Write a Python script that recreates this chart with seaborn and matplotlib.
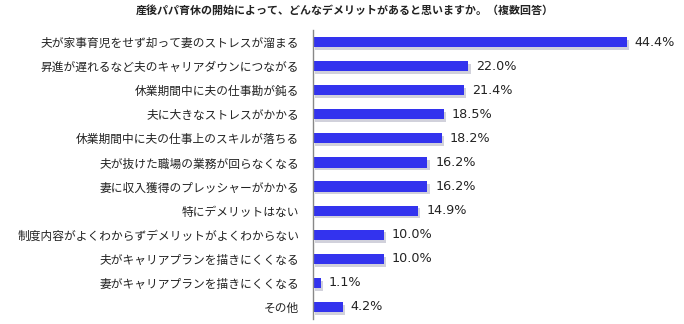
import matplotlib
matplotlib.use("Agg")
import matplotlib.pyplot as plt
import matplotlib.patheffects as pe
import seaborn as sns
import pandas as pd

categories = [
    "夫が家事育児をせず却って妻のストレスが溜まる",
    "昇進が遅れるなど夫のキャリアダウンにつながる",
    "休業期間中に夫の仕事勘が鈍る",
    "夫に大きなストレスがかかる",
    "休業期間中に夫の仕事上のスキルが落ちる",
    "夫が抜けた職場の業務が回らなくなる",
    "妻に収入獲得のプレッシャーがかかる",
    "特にデメリットはない",
    "制度内容がよくわからずデメリットがよくわからない",
    "夫がキャリアプランを描きにくくなる",
    "妻がキャリアプランを描きにくくなる",
    "その他",
]
values = [44.4, 22.0, 21.4, 18.5, 18.2, 16.2, 16.2, 14.9, 10.0, 10.0, 1.1, 4.2]
title = "産後パパ育休の開始によって、どんなデメリットがあると思いますか。（複数回答）"

sns.set_theme(style="white")
plt.rcParams["font.family"] = ["Noto Sans CJK JP", "DejaVu Sans"]

df = pd.DataFrame({"item": categories, "pct": values})

fig = plt.figure(figsize=(6.84, 3.24), dpi=100)
ax = fig.add_axes([313 / 684, 5 / 324, 1 - 313 / 684, 289 / 324])

sns.barplot(data=df, x="pct", y="item", orient="h", color="#3333ee",
            saturation=1, width=0.42, ax=ax)

for patch in ax.patches:
    patch.set_linewidth(0)
    patch.set_path_effects([
        pe.SimplePatchShadow(offset=(1.5, -2), shadow_rgbFace="#9a9ab0", alpha=0.45),
        pe.Normal(),
    ])

for i, v in enumerate(values):
    ax.text(v + 1.1, i, f"{v:.1f}%", va="center", ha="left",
            fontsize=9.2, color="#222222", family="DejaVu Sans")

ax.set_xlim(0, 52.5)
ax.set_ylim(11.5, -0.5)
ax.set_xlabel("")
ax.set_ylabel("")
ax.set_xticks([])
ax.tick_params(axis="y", length=0, pad=10, labelsize=8.45, labelcolor="#222222")

for side in ("top", "right", "bottom"):
    ax.spines[side].set_visible(False)
ax.spines["left"].set_color("#888888")
ax.spines["left"].set_linewidth(1)

fig.text(345 / 684, 1 - 10 / 324, title, ha="center", va="center",
         fontsize=7.9, fontweight="bold", color="#222222")

fig.savefig("out.png", dpi=100, facecolor="white")
